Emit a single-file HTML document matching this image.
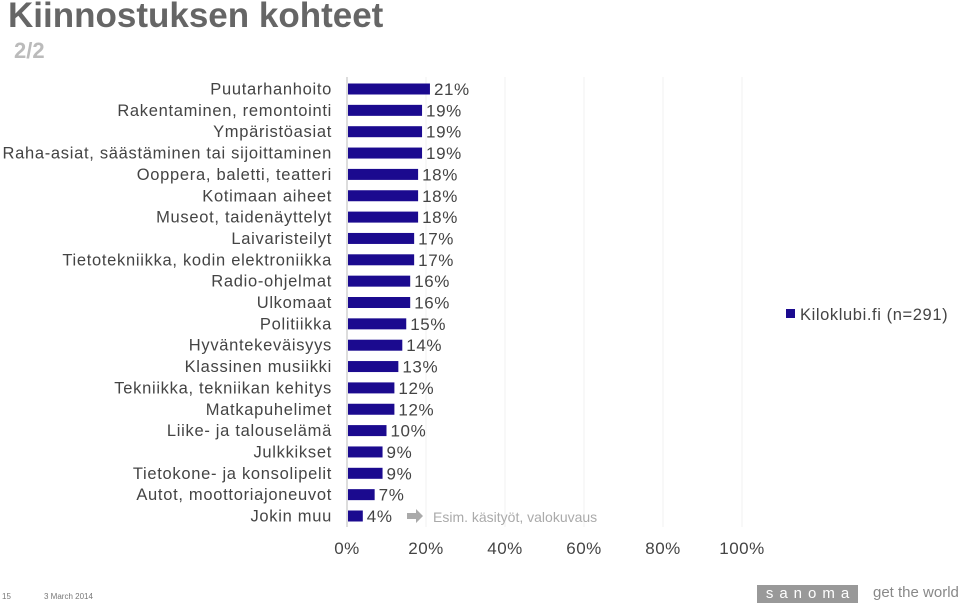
<!DOCTYPE html>
<html><head><meta charset="utf-8"><style>
body{margin:0;width:960px;height:604px;background:#fff;overflow:hidden;font-family:"Liberation Sans",sans-serif;position:relative}
.t{position:absolute;white-space:nowrap}
</style></head><body>
<div class="t" style="left:8px;top:-4px;font-size:35px;font-weight:bold;color:#666">Kiinnostuksen kohteet</div>
<div class="t" style="left:14px;top:38px;font-size:22px;font-weight:bold;color:#bbb">2/2</div>
<svg id="chart" width="960" height="604" style="position:absolute;left:0;top:0"></svg>
<div class="t" style="left:2px;top:592px;font-size:8px;color:#777">15</div>
<div class="t" style="left:44px;top:592px;font-size:8px;color:#777">3 March 2014</div>
<div class="t" style="left:757px;top:585px;width:101px;height:18px;background:#999;color:#fff;font-size:15px;line-height:18px;text-align:center;letter-spacing:6px;text-indent:6px">sanoma</div>
<div class="t" style="left:873px;top:584px;font-size:15px;color:#888">get the world</div>
<script>
const categories=["Puutarhanhoito","Rakentaminen, remontointi","Ympäristöasiat","Raha-asiat, säästäminen tai sijoittaminen","Ooppera, baletti, teatteri","Kotimaan aiheet","Museot, taidenäyttelyt","Laivaristeilyt","Tietotekniikka, kodin elektroniikka","Radio-ohjelmat","Ulkomaat","Politiikka","Hyväntekeväisyys","Klassinen musiikki","Tekniikka, tekniikan kehitys","Matkapuhelimet","Liike- ja talouselämä","Julkkikset","Tietokone- ja konsolipelit","Autot, moottoriajoneuvot","Jokin muu"];
const values=[21,19,19,19,18,18,18,17,17,16,16,15,14,13,12,12,10,9,9,7,4];
const ticks=[0,20,40,60,80,100];
const NS="http://www.w3.org/2000/svg";
const svg=document.getElementById('chart');
const x0=347,pxPer=3.95,y0=89,step=21.35,bh=11;
const xs=v=>x0+v*pxPer, ys=i=>y0+i*step;
function mk(tag,attrs,txt){const e=document.createElementNS(NS,tag);for(const k in attrs)e.setAttribute(k,attrs[k]);if(txt!=null)e.textContent=txt;svg.appendChild(e);return e;}
ticks.forEach(t=>{
 if(t>0){const g=mk('line',{x1:xs(t),x2:xs(t),y1:77,y2:527,stroke:'#f0f0f0','stroke-width':1});
 
 }
 const l=mk('text',{x:xs(t),y:554,'font-size':17,fill:'#444','text-anchor':'middle','letter-spacing':0.5},t+'%');
 
 
});
const ax=mk('line',{x1:x0,x2:x0,y1:77,y2:527,stroke:'#bbb','stroke-width':1});


categories.forEach((c,i)=>{
 const y=ys(i);
 const lab=mk('text',{x:332,y:y+5.5,'font-size':16.5,fill:'#444','text-anchor':'end','letter-spacing':0.7},c);
 
 
 const b=mk('rect',{x:x0+1,y:y-bh/2,width:values[i]*pxPer-1,height:bh,fill:'#1b0a8f'});
 
 
 const v=mk('text',{x:xs(values[i])+4,y:y+6,'font-size':17,fill:'#444','letter-spacing':0.6},values[i]+'%');
 
 
});
const ly=ys(categories.length-1);
const ar=mk('path',{d:`M407 ${ly-3} h9 v-4 l7 7 l-7 7 v-4 h-9 z`,fill:'#aaa'});


const nt=mk('text',{x:433,y:ly+6,'font-size':14,fill:'#aaa'},'Esim. käsityöt, valokuvaus');


const lg=mk('rect',{x:786,y:309,width:9,height:9,fill:'#1b0a8f'});


const lt=mk('text',{x:800,y:320,'font-size':16.5,fill:'#444','letter-spacing':0.6},'Kiloklubi.fi (n=291)');


</script>
</body></html>
